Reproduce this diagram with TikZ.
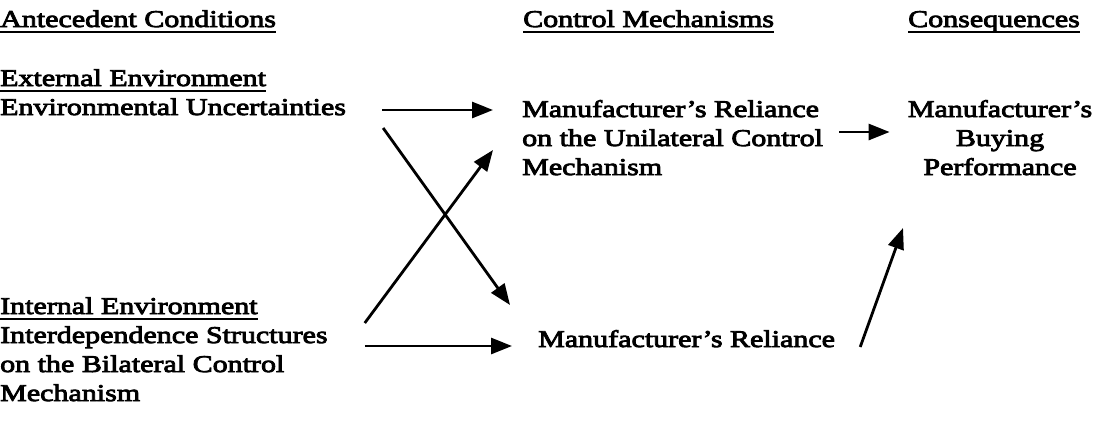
\documentclass[tikz,border=0pt]{standalone}
\usepackage{fontspec}
\setmainfont[FakeStretch=1.25,FakeBold=3.5]{Liberation Serif}
\usetikzlibrary{arrows.meta}

\tikzset{
  txt/.style={inner sep=0pt, anchor=base west, align=left, font=\fontsize{24}{29}\selectfont},
  uline/.style={line width=1.8pt},
  link/.style={line width=2.8pt, -{Triangle[length=21pt,width=16pt]}}
}

\begin{document}
\begin{tikzpicture}[x=1pt,y=-1pt]
  \useasboundingbox (0,0) rectangle (1107,421);
  % column heads
  \node[txt] (antec) at (0,27) {Antecedent Conditions};
  \node[txt] (ctrl) at (523,27) {Control Mechanisms};
  \node[txt] (conseq) at (908,27) {Consequences};
  % antecedents (base = last line)
  \node[txt] (extT) at (0,86) {External Environment};
  \node[txt] (ext) at (0,115) {Environmental Uncertainties};
  \node[txt] (intT) at (0,314) {Internal Environment};
  \node[txt] (int) at (0,401) {Interdependence Structures\\on the Bilateral Control\\Mechanism};
  % control mechanisms
  \node[txt] (uni) at (522,175) {Manufacturer's Reliance\\on the Unilateral Control\\Mechanism};
  \node[txt] (bil) at (538,347) {Manufacturer's Reliance};
  % consequences
  \node[txt, anchor=base, align=center] (buy) at (1000,175) {Manufacturer's\\Buying\hspace*{40pt}\\Performance};
  % underlines
  \foreach \n in {antec,ctrl,conseq,extT,intT}
    \draw[uline] ([yshift=-5pt]\n.base west) -- ([yshift=-5pt]\n.base east);
  % links
  \draw[link] ([shift={(36,-5)}]ext.base east) -- ([shift={(-29,-65)}]uni.base west);
  \draw[link] ([shift={(37,13)}]ext.base east) -- ([shift={(-28,-42)}]bil.base west);
  \draw[link] ([shift={(37,-78)}]int.base east) -- ([shift={(-29,-25)}]uni.base west);
  \draw[link] ([shift={(37,-55)}]int.base east) -- ([shift={(-26,-1)}]bil.base west);
  \draw[link] ([shift={(16,-43)}]uni.base east) -- ([shift={(-18,-43)}]buy.base west);
  \draw[link] ([shift={(25,0)}]bil.base east) -- ([shift={(-97,53)}]buy.base);
\end{tikzpicture}
\end{document}
